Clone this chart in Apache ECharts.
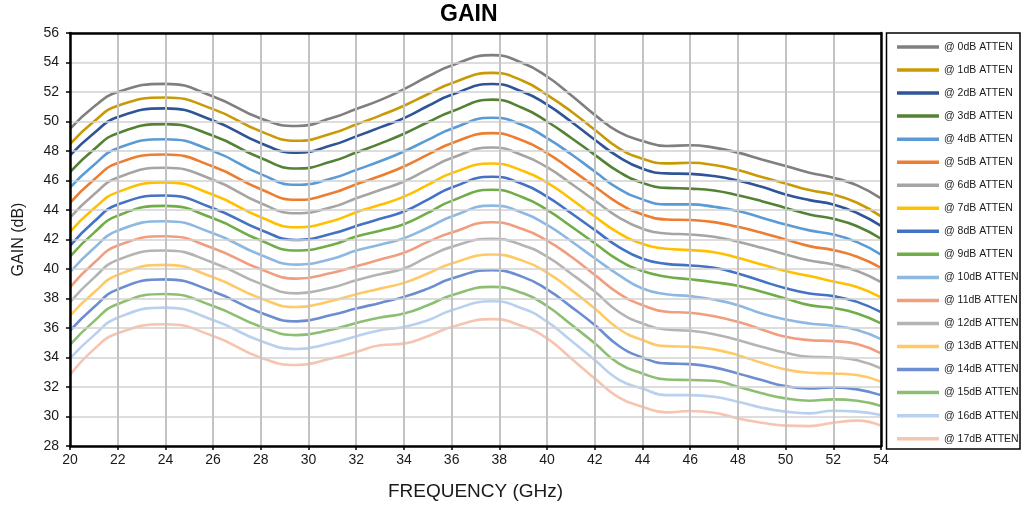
<!DOCTYPE html>
<html>
<head>
<meta charset="utf-8">
<script src="https://cdn.jsdelivr.net/npm/echarts@6/dist/echarts.min.js"></script>
<style>
html,body{margin:0;padding:0;background:#fff;}
#c{width:1022px;height:508px;}
</style>
</head>
<body>
<div id="c"></div>
<script>
// Frequency points (GHz)
const FREQ = [20, 21, 22, 24, 26, 28, 29.5, 31, 32, 33, 34, 35, 36, 37.7, 39, 40, 41, 42, 43, 44, 45, 46, 47, 48, 49, 50, 51, 52, 53, 54];

// Gain (dB) per attenuation state
const ATT0  = [49.5, 51.0, 52.0, 52.55, 51.7, 50.2, 49.7, 50.25, 50.85, 51.45, 52.2, 53.05, 53.8, 54.5, 53.95, 53.05, 51.8, 50.45, 49.3, 48.68, 48.34, 48.39, 48.23, 47.89, 47.43, 46.98, 46.53, 46.19, 45.67, 44.79];
const ATT1  = [48.47, 50.0, 51.07, 51.63, 50.84, 49.33, 48.69, 49.2, 49.8, 50.4, 51.07, 51.85, 52.6, 53.3, 52.75, 51.81, 50.7, 49.44, 48.2, 47.48, 47.16, 47.2, 47.05, 46.71, 46.23, 45.8, 45.35, 45.05, 44.49, 43.57];
const ATT2  = [47.7, 49.2, 50.3, 50.89, 50.07, 48.53, 47.88, 48.4, 48.99, 49.6, 50.23, 51.05, 51.81, 52.54, 52.0, 51.14, 50.0, 48.76, 47.6, 46.8, 46.48, 46.45, 46.3, 46.0, 45.57, 45.05, 44.67, 44.38, 43.8, 42.93];
const ATT3  = [46.57, 48.1, 49.21, 49.82, 49.03, 47.52, 46.81, 47.3, 47.9, 48.5, 49.17, 49.95, 50.68, 51.48, 50.9, 50.0, 48.9, 47.74, 46.6, 45.84, 45.5, 45.45, 45.32, 45.0, 44.6, 44.14, 43.7, 43.4, 42.9, 42.05];
const ATT4  = [45.52, 47.05, 48.19, 48.8, 47.99, 46.43, 45.71, 46.15, 46.72, 47.3, 47.97, 48.75, 49.51, 50.25, 49.75, 48.87, 47.8, 46.61, 45.45, 44.72, 44.38, 44.38, 44.22, 43.93, 43.48, 43.02, 42.62, 42.34, 41.82, 40.98];
const ATT5  = [44.48, 46.05, 47.18, 47.76, 46.95, 45.41, 44.69, 45.15, 45.75, 46.3, 46.95, 47.75, 48.53, 49.21, 48.7, 47.86, 46.75, 45.59, 44.45, 43.7, 43.36, 43.32, 43.18, 42.86, 42.46, 42.0, 41.55, 41.28, 40.83, 40.08];
const ATT6  = [43.49, 45.05, 46.2, 46.86, 46.05, 44.46, 43.78, 44.2, 44.8, 45.35, 45.93, 46.75, 47.52, 48.24, 47.7, 46.9, 45.8, 44.64, 43.5, 42.73, 42.41, 42.34, 42.19, 41.85, 41.44, 40.99, 40.58, 40.31, 39.86, 39.11];
const ATT7  = [42.52, 44.1, 45.21, 45.87, 45.03, 43.51, 42.83, 43.25, 43.85, 44.35, 44.91, 45.7, 46.5, 47.15, 46.65, 45.86, 44.75, 43.56, 42.45, 41.71, 41.37, 41.28, 41.14, 40.76, 40.31, 39.86, 39.52, 39.15, 38.78, 38.07];
const ATT8  = [41.57, 43.2, 44.37, 44.98, 44.12, 42.65, 41.97, 42.4, 42.92, 43.4, 43.9, 44.7, 45.52, 46.25, 45.75, 44.91, 43.8, 42.65, 41.5, 40.69, 40.35, 40.24, 40.08, 39.7, 39.18, 38.7, 38.34, 38.16, 37.77, 37.07];
const ATT9  = [40.84, 42.45, 43.62, 44.28, 43.44, 41.93, 41.25, 41.65, 42.2, 42.6, 43.04, 43.8, 44.62, 45.37, 44.85, 44.01, 42.9, 41.75, 40.6, 39.86, 39.48, 39.3, 39.1, 38.87, 38.45, 38.0, 37.55, 37.35, 36.98, 36.31];
const ATT10 = [39.78, 41.4, 42.6, 43.24, 42.42, 40.95, 40.3, 40.7, 41.25, 41.65, 42.09, 42.8, 43.56, 44.3, 43.8, 42.99, 41.9, 40.73, 39.6, 38.68, 38.29, 38.16, 37.93, 37.55, 36.98, 36.58, 36.31, 36.15, 35.86, 35.25];
const ATT11 = [38.76, 40.4, 41.59, 42.22, 41.41, 39.98, 39.35, 39.75, 40.19, 40.64, 41.1, 41.84, 42.47, 43.17, 42.7, 41.93, 40.85, 39.6, 38.35, 37.55, 37.1, 37.03, 36.8, 36.42, 35.9, 35.4, 35.18, 35.11, 34.91, 34.28];
const ATT12 = [37.76, 39.4, 40.62, 41.25, 40.43, 38.99, 38.35, 38.75, 39.24, 39.65, 40.03, 40.82, 41.5, 42.05, 41.6, 40.84, 39.7, 38.47, 37.1, 36.31, 35.9, 35.81, 35.58, 35.18, 34.73, 34.32, 34.05, 34.0, 33.82, 33.26];
const ATT13 = [36.84, 38.4, 39.6, 40.28, 39.44, 38.01, 37.42, 37.85, 38.29, 38.67, 39.06, 39.69, 40.37, 40.98, 40.55, 39.76, 38.6, 37.33, 35.95, 35.18, 34.77, 34.73, 34.55, 34.16, 33.64, 33.19, 32.97, 32.92, 32.81, 32.36];
const ATT14 = [35.82, 37.4, 38.62, 39.3, 38.47, 37.04, 36.45, 36.9, 37.32, 37.7, 38.11, 38.67, 39.35, 39.92, 39.45, 38.62, 37.45, 36.2, 34.8, 34.0, 33.6, 33.55, 33.33, 32.92, 32.47, 32.06, 31.9, 31.97, 31.84, 31.45];
const ATT15 = [34.85, 36.45, 37.63, 38.31, 37.49, 36.09, 35.52, 35.9, 36.34, 36.71, 36.98, 37.54, 38.22, 38.79, 38.35, 37.49, 36.25, 34.96, 33.6, 32.92, 32.51, 32.47, 32.42, 32.02, 31.57, 31.23, 31.07, 31.16, 31.07, 30.71];
const ATT16 = [33.94, 35.5, 36.7, 37.38, 36.54, 35.12, 34.58, 35.0, 35.44, 35.85, 36.07, 36.52, 37.2, 37.81, 37.3, 36.43, 35.15, 33.83, 32.5, 31.9, 31.45, 31.45, 31.34, 31.0, 30.6, 30.33, 30.21, 30.39, 30.33, 30.1];
const ATT17 = [32.81, 34.55, 35.64, 36.25, 35.46, 33.99, 33.49, 33.95, 34.38, 34.83, 34.94, 35.44, 36.07, 36.6, 36.1, 35.3, 33.95, 32.58, 31.3, 30.66, 30.28, 30.37, 30.26, 29.87, 29.58, 29.38, 29.35, 29.58, 29.72, 29.38];

const SERIES_NAMES = ['@ 0dB ATTEN','@ 1dB ATTEN','@ 2dB ATTEN','@ 3dB ATTEN','@ 4dB ATTEN','@ 5dB ATTEN','@ 6dB ATTEN','@ 7dB ATTEN','@ 8dB ATTEN','@ 9dB ATTEN','@ 10dB ATTEN','@ 11dB ATTEN','@ 12dB ATTEN','@ 13dB ATTEN','@ 14dB ATTEN','@ 15dB ATTEN','@ 16dB ATTEN','@ 17dB ATTEN'];
const SERIES_VALUES = [ATT0, ATT1, ATT2, ATT3, ATT4, ATT5, ATT6, ATT7, ATT8, ATT9, ATT10, ATT11, ATT12, ATT13, ATT14, ATT15, ATT16, ATT17];
const COLORS = ['#7f7f7f','#c99a05','#2f5597','#548235','#5b9bd5','#ed7d31','#a5a5a5','#ffc000','#4472c4','#70ad47','#8db8e2','#f29e7e','#b4b4b4','#ffc966','#6c8ed0','#8dbf73','#b9d1ee','#f7c4b0'];

const X_TICKS = {min: 20, max: 54, interval: 2};
const Y_TICKS = {min: 28, max: 56, interval: 2};

const chart = echarts.init(document.getElementById('c'), null, {renderer: 'canvas'});

const series = SERIES_NAMES.map((name, i) => ({
  name: name,
  type: 'line',
  xAxisIndex: 0,
  yAxisIndex: 0,
  data: FREQ.map((f, j) => [f, SERIES_VALUES[i][j]]),
  smooth: 0.5,
  showSymbol: false,
  symbol: 'none',
  lineStyle: {width: 2.6, color: COLORS[i]},
  itemStyle: {color: COLORS[i]},
  emphasis: {disabled: true},
  animation: false,
  z: 3
}));

const FONT = 'Liberation Sans, Arial, sans-serif';

chart.setOption({
  animation: false,
  backgroundColor: '#fff',
  color: COLORS,
  title: {
    text: 'GAIN',
    left: 440,
    top: 3,
    padding: 0,
    textStyle: {fontFamily: FONT, fontWeight: 'bold', fontSize: 23, color: '#000'}
  },
  grid: {left: 70, right: 141, top: 33, bottom: 62, containLabel: false},
  legend: {
    orient: 'vertical',
    left: 897,
    top: 41,
    padding: 0,
    itemGap: 11.04,
    itemWidth: 42,
    itemHeight: 3.5,
    icon: 'rect',
    selectedMode: false,
    textStyle: {fontFamily: FONT, fontSize: 10.5, color: '#1a1a1a', lineHeight: 12, padding: [0,0,0,0]},
    data: SERIES_NAMES
  },
  graphic: [{
    type: 'rect',
    shape: {x: 886.5, y: 33, width: 133.5, height: 416},
    style: {fill: 'none', stroke: '#000', lineWidth: 1.5},
    z: 10
  }],
  xAxis: [{
    type: 'value',
    min: X_TICKS.min, max: X_TICKS.max, interval: X_TICKS.interval,
    name: 'FREQUENCY (GHz)',
    nameLocation: 'middle',
    nameGap: 36,
    nameTextStyle: {fontFamily: FONT, fontSize: 19, color: '#1a1a1a'},
    axisLine: {show: true, lineStyle: {color: '#000', width: 2.5}},
    axisTick: {show: true, inside: false, length: 4, lineStyle: {color: '#000', width: 1.5}},
    axisLabel: {fontFamily: FONT, fontSize: 14, color: '#1a1a1a', margin: 7},
    splitLine: {show: true, lineStyle: {color: '#c3c3c3', width: 2}},
    z: 5
  }, {
    type: 'value',
    position: 'top',
    min: X_TICKS.min, max: X_TICKS.max, interval: X_TICKS.interval,
    axisLine: {show: true, lineStyle: {color: '#000', width: 2.5}},
    axisTick: {show: false},
    axisLabel: {show: false},
    splitLine: {show: false},
    z: 5
  }],
  yAxis: [{
    type: 'value',
    min: Y_TICKS.min, max: Y_TICKS.max, interval: Y_TICKS.interval,
    name: 'GAIN (dB)',
    nameLocation: 'middle',
    nameGap: 43,
    nameRotate: 90,
    nameTextStyle: {fontFamily: FONT, fontSize: 16, color: '#1a1a1a'},
    axisLine: {show: true, lineStyle: {color: '#000', width: 2.5}},
    axisTick: {show: true, inside: false, length: 4, lineStyle: {color: '#000', width: 1.5}},
    axisLabel: {fontFamily: FONT, fontSize: 14, color: '#1a1a1a', margin: 11},
    splitLine: {show: true, lineStyle: {color: '#d2d2d2', width: 1.5}},
    z: 5
  }, {
    type: 'value',
    position: 'right',
    min: Y_TICKS.min, max: Y_TICKS.max, interval: Y_TICKS.interval,
    axisLine: {show: true, lineStyle: {color: '#000', width: 2.5}},
    axisTick: {show: false},
    axisLabel: {show: false},
    splitLine: {show: false},
    z: 5
  }],
  series: series
});
</script>
</body>
</html>
